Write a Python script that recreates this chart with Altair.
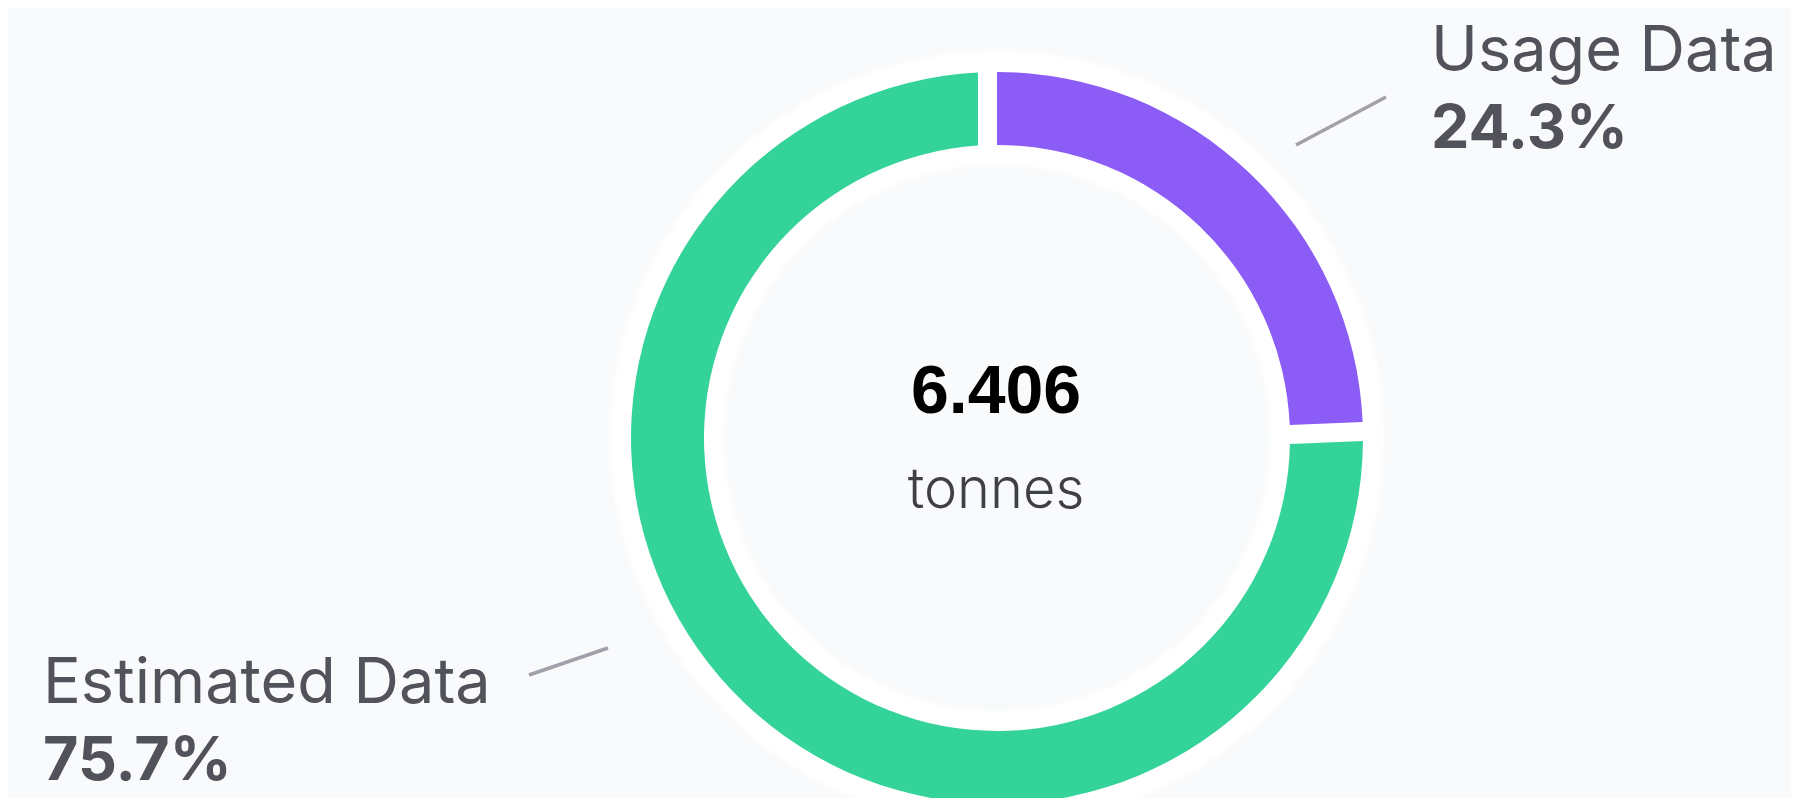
import altair as alt
import pandas as pd

# ---- data ----
categories = ["Usage Data", "Estimated Data"]
shares = [24.3, 75.7]          # percent of total
order = [0, 1]
total_value = ["6.406"]
total_unit = ["tonnes"]
slice_colors = ["#8b5cf6", "#34d399"]

df = pd.DataFrame({"category": categories, "share": shares, "ord": order})
center_df = pd.DataFrame({"value": total_value, "unit": total_unit})
ring_df = pd.DataFrame({"full": [100.0]})

W, H = 1783, 790
CX, CY = 989, 430

base = (
    alt.Chart(df)
    .transform_window(end="sum(share)", sort=[alt.SortField("ord")], frame=[None, 0])
    .transform_calculate(start="datum.end - datum.share",
                         pct="format(datum.share, '.1f') + '%'")
)

theta_scale = alt.Scale(domain=[0, 100])
color_scale = alt.Scale(domain=categories, range=slice_colors)

# white halo behind the ring
halo_soft = alt.Chart(ring_df).mark_arc(
    innerRadius=272, outerRadius=388, color="white", opacity=0.5
).encode(theta=alt.Theta("full:Q", scale=theta_scale), x=alt.value(CX), y=alt.value(CY))
halo = alt.Chart(ring_df).mark_arc(
    innerRadius=275, outerRadius=385, color="white"
).encode(theta=alt.Theta("full:Q", scale=theta_scale), x=alt.value(CX), y=alt.value(CY))

arc_enc = dict(
    theta=alt.Theta("start:Q", scale=theta_scale),
    theta2="end:Q",
    color=alt.Color("category:N", scale=color_scale, legend=None),
    x=alt.value(CX),
    y=alt.value(CY),
)

usage_arc = base.transform_filter(alt.datum.category == "Usage Data").mark_arc(
    innerRadius=293, outerRadius=366
).encode(**arc_enc)

est_arc = base.transform_filter(alt.datum.category == "Estimated Data").mark_arc(
    innerRadius=293, outerRadius=366, padAngle=0.081
).encode(**arc_enc)

label_color = "#52525b"
line_color = "#a1a1aa"

def label_layers(cat, x, y_name, y_pct, x1, y1, x2, y2):
    sub = base.transform_filter(alt.datum.category == cat)
    name = sub.mark_text(
        font="Inter", fontSize=63, fontWeight=400, color=label_color,
        align="left", baseline="alphabetic"
    ).encode(text="category:N", x=alt.value(x), y=alt.value(y_name))
    pct = sub.mark_text(
        font="Inter", fontSize=61, fontWeight=700, color=label_color,
        align="left", baseline="alphabetic"
    ).encode(text="pct:N", x=alt.value(x), y=alt.value(y_pct))
    line = sub.mark_rule(color=line_color, strokeWidth=3.5).encode(
        x=alt.value(x1), y=alt.value(y1), x2=alt.value(x2), y2=alt.value(y2)
    )
    return [line, name, pct]

usage_labels = label_layers("Usage Data", 1423, 63, 140, 1288, 137, 1378, 89)
est_labels = label_layers("Estimated Data", 35, 695, 772, 521, 667, 600, 640)

center_val = alt.Chart(center_df).mark_text(
    font="Liberation Sans", fontSize=68, fontWeight="bold", color="#000000",
    align="center", baseline="alphabetic"
).encode(text="value:N", x=alt.value(CX - 1), y=alt.value(405))

center_unit = alt.Chart(center_df).mark_text(
    font="Inter", fontSize=56, fontWeight=300, color="#3f3f46",
    align="center", baseline="alphabetic"
).encode(text="unit:N", x=alt.value(CX - 1), y=alt.value(500))

chart = alt.layer(
    halo_soft, halo, usage_arc, est_arc, *usage_labels, *est_labels, center_val, center_unit
).properties(
    width=W, height=H, padding=0,
    autosize=alt.AutoSizeParams(type="none"),
    background="#f9fafb",
).configure_view(stroke=None)

chart.save("out.html", embed_options={"renderer": "svg", "actions": False})
